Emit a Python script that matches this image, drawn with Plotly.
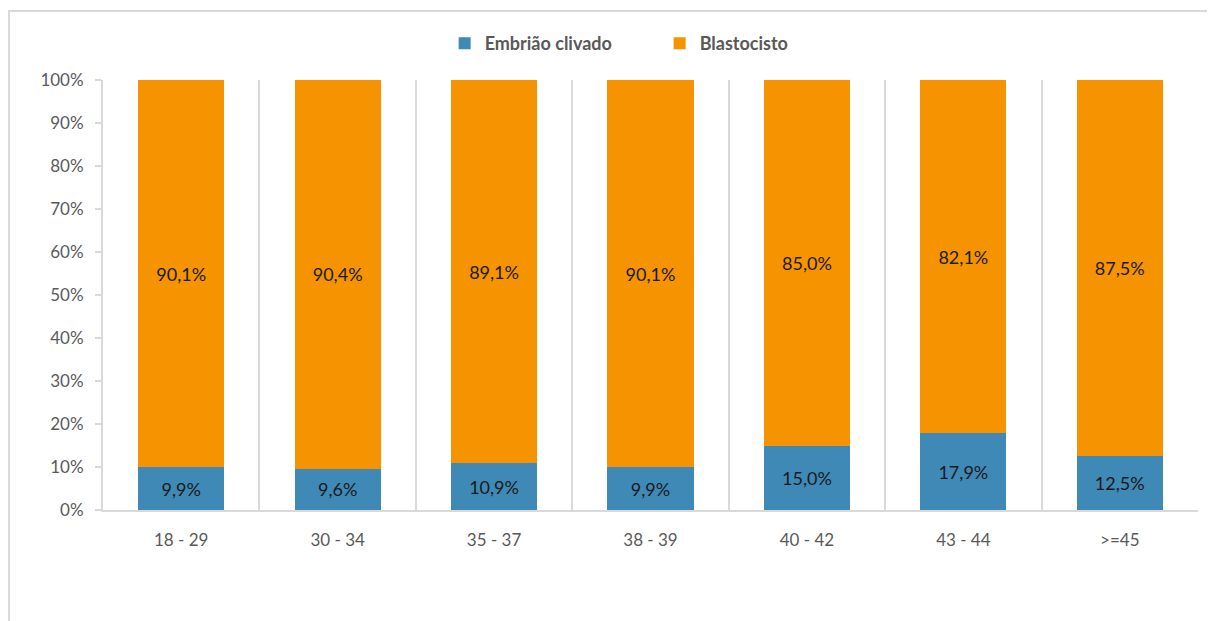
import plotly.graph_objects as go

categories = ["18 - 29", "30 - 34", "35 - 37", "38 - 39", "40 - 42", "43 - 44", ">=45"]
embriao = [9.9, 9.6, 10.9, 9.9, 15.0, 17.9, 12.5]
blasto = [90.1, 90.4, 89.1, 90.1, 85.0, 82.1, 87.5]
y_ticks = [0, 10, 20, 30, 40, 50, 60, 70, 80, 90, 100]
y_tick_text = [f"{v}%" for v in y_ticks]

FONT = "Lato, 'Open Sans', sans-serif"

fig = go.Figure()
fig.add_trace(go.Bar(
    x=categories, y=embriao, name="Embrião clivado",
    marker=dict(color="#3F89B6", line=dict(width=0)),
    texttemplate="%{y:.1f}%", textposition="inside", insidetextanchor="middle",
    textfont=dict(color="#1a1a1a", size=18, family=FONT),
))
fig.add_trace(go.Bar(
    x=categories, y=blasto, name="Blastocisto",
    marker=dict(color="#F59300", line=dict(width=0)),
    texttemplate="%{y:.1f}%", textposition="inside", insidetextanchor="middle",
    textfont=dict(color="#1a1a1a", size=18, family=FONT),
))

# page is drawn with an 8px body margin, compensate so plot area lands at x 103-1198, y 80-510
fig.update_layout(
    width=1207, height=613,
    barmode="stack", bargap=0.45,
    separators=",.",
    plot_bgcolor="white", paper_bgcolor="white",
    margin=dict(l=95, r=17, t=72, b=111),
    font=dict(family=FONT, color="#595959", size=17),
    showlegend=True,
    legend=dict(orientation="h", x=0.312, xanchor="left", y=1.085, yanchor="middle",
                font=dict(size=18, color="#595959", family=FONT, weight="bold"),
                itemsizing="constant", traceorder="normal", itemwidth=30,
                entrywidth=170),
    uniformtext=dict(minsize=18, mode="show"),
    xaxis=dict(
        type="category", tickson="boundaries", showgrid=True,
        gridcolor="#d9d9d9", gridwidth=2,
        showline=True, linecolor="#d9d9d9", linewidth=2, mirror=False,
        ticks="", ticklabelstandoff=14, tickfont=dict(size=17, color="#595959"),
    ),
    yaxis=dict(
        range=[0, 100], tickmode="array", tickvals=y_ticks, ticktext=y_tick_text,
        showgrid=False, zeroline=False,
        showline=True, linecolor="#d9d9d9", linewidth=2,
        ticks="outside", ticklen=6, tickcolor="#d9d9d9", tickwidth=2,
        ticklabelstandoff=8,
        tickfont=dict(size=17, color="#595959"),
    ),
)

# outer chart frame (Excel-style chart area): only its left and top edges are on the page
fig.add_shape(type="path", xref="paper", yref="paper",
              path="M -0.0858,-0.3 L -0.0858,1.1605 L 1.06,1.1605",
              line=dict(color="#d9d9d9", width=2), layer="below")

fig.write_html("out.html")
